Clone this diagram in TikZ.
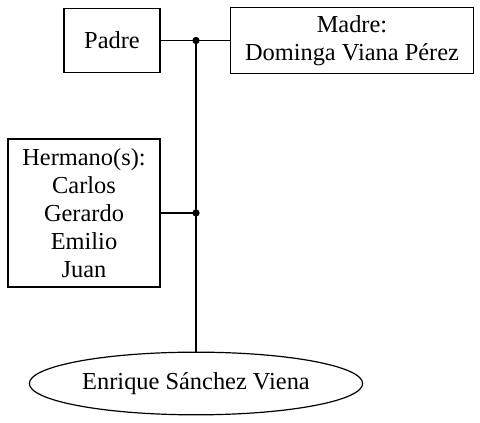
\documentclass[tikz,border=0pt]{standalone}
\usepackage{fontspec}
\setmainfont{Liberation Serif}
\usetikzlibrary{shapes.geometric}
\begin{document}
\begin{tikzpicture}[x=0.75pt,y=-0.75pt,
  box/.style={draw,line width=0.9pt,inner sep=0pt,align=center,font=\fontsize{18.3}{21}\selectfont},
  oval/.style={draw,ellipse,line width=0.9pt,inner sep=0pt,font=\fontsize{18.3}{21}\selectfont},
  link/.style={line width=0.9pt},
  dot/.style={circle,fill=black,inner sep=0pt,minimum size=5.5pt}]
\useasboundingbox (0,0) rectangle (480,423);
\node[box,minimum width=72pt,minimum height=48pt] (padre) at (112,40.5) {Padre};
\node[box,minimum width=182pt,minimum height=50pt] (madre) at (352,40.5) {Madre:\\Dominga Viana Pérez};
\node[box,minimum width=114pt,minimum height=111pt] (herm) at (84,213) {Hermano(s):\\Carlos\\Gerardo\\Emilio\\Juan};
\node[oval,minimum width=250pt,minimum height=47pt] (ego) at (196,383.5) {Enrique Sánchez Viena};
\node[dot] (j1) at (196,40.5) {};
\node[dot] (j2) at (196,213) {};
\draw[link] (padre.east) -- (j1.center) -- (madre.west);
\draw[link] (herm.east) -- (j2.center);
\draw[link] (j1.center) -- (j2.center) -- (ego.north);
\end{tikzpicture}
\end{document}
